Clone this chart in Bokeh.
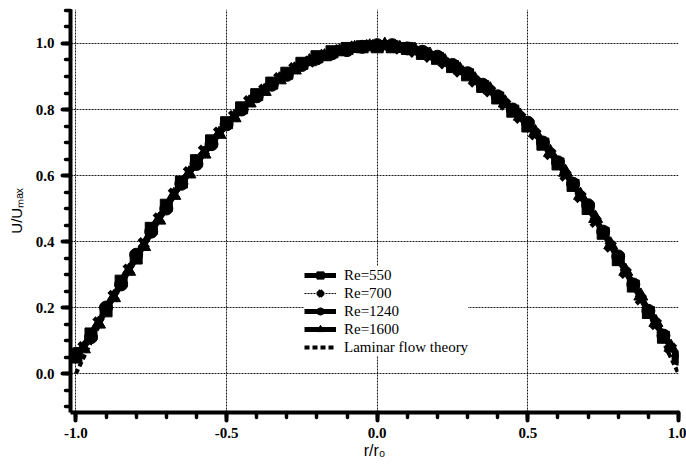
from bokeh.plotting import figure
from bokeh.models import (Range1d, FixedTicker, PrintfTickFormatter, Legend, LegendItem)
from bokeh.embed import file_html
from bokeh.resources import INLINE

# ---- data ----
r_a = [-1.00, -0.95, -0.90, -0.85, -0.80, -0.75, -0.70, -0.65, -0.60, -0.55, -0.50,
       -0.45, -0.40, -0.35, -0.30, -0.25, -0.20, -0.15, -0.10, -0.05, 0.00,
       0.05, 0.10, 0.15, 0.20, 0.25, 0.30, 0.35, 0.40, 0.45, 0.50,
       0.55, 0.60, 0.65, 0.70, 0.75, 0.80, 0.85, 0.90, 0.95, 1.00]
u_re550 = [0.05, 0.12, 0.19, 0.28, 0.35, 0.44, 0.51, 0.58, 0.645, 0.705, 0.76,
           0.805, 0.845, 0.88, 0.91, 0.94, 0.96, 0.975, 0.985, 0.99, 0.99,
           0.99, 0.985, 0.97, 0.955, 0.93, 0.905, 0.87, 0.835, 0.795, 0.75,
           0.695, 0.635, 0.57, 0.50, 0.425, 0.345, 0.265, 0.185, 0.11, 0.05]
u_re1240 = [0.06, 0.11, 0.20, 0.27, 0.36, 0.43, 0.50, 0.575, 0.635, 0.695, 0.755,
            0.80, 0.84, 0.875, 0.905, 0.935, 0.955, 0.97, 0.98, 0.99, 0.995,
            0.995, 0.985, 0.975, 0.96, 0.935, 0.91, 0.875, 0.84, 0.80, 0.76,
            0.70, 0.64, 0.575, 0.51, 0.43, 0.355, 0.27, 0.19, 0.115, 0.045]

r_b = [-0.975, -0.925, -0.875, -0.825, -0.775, -0.725, -0.675, -0.625, -0.575, -0.525,
       -0.475, -0.425, -0.375, -0.325, -0.275, -0.225, -0.175, -0.125, -0.075, -0.025,
       0.025, 0.075, 0.125, 0.175, 0.225, 0.275, 0.325, 0.375, 0.425, 0.475,
       0.525, 0.575, 0.625, 0.675, 0.725, 0.775, 0.825, 0.875, 0.925, 0.975]
u_re700 = [0.08, 0.155, 0.235, 0.315, 0.395, 0.47, 0.545, 0.61, 0.675, 0.73,
           0.78, 0.825, 0.86, 0.895, 0.925, 0.945, 0.965, 0.98, 0.99, 0.995,
           0.99, 0.985, 0.975, 0.96, 0.94, 0.915, 0.885, 0.855, 0.815, 0.775,
           0.725, 0.665, 0.60, 0.535, 0.46, 0.385, 0.305, 0.225, 0.15, 0.075]
u_re1600 = [0.075, 0.15, 0.23, 0.31, 0.385, 0.465, 0.54, 0.605, 0.665, 0.725,
            0.775, 0.82, 0.855, 0.89, 0.92, 0.945, 0.96, 0.975, 0.985, 0.99,
            0.995, 0.985, 0.98, 0.965, 0.945, 0.92, 0.89, 0.86, 0.82, 0.78,
            0.73, 0.67, 0.61, 0.54, 0.47, 0.39, 0.31, 0.235, 0.155, 0.08]

r_lam = [-1.0, -0.9, -0.8, -0.7, -0.6, -0.5, -0.4, -0.3, -0.2, -0.1, 0.0,
         0.1, 0.2, 0.3, 0.4, 0.5, 0.6, 0.7, 0.8, 0.9, 1.0]
u_lam = [0.0, 0.19, 0.36, 0.51, 0.64, 0.75, 0.84, 0.91, 0.96, 0.99, 1.0,
         0.99, 0.96, 0.91, 0.84, 0.75, 0.64, 0.51, 0.36, 0.19, 0.0]

labels = ["Re=550", "Re=700", "Re=1240", "Re=1600", "Laminar flow theory"]
x_ticks = [-1.0, -0.5, 0.0, 0.5, 1.0]
y_ticks = [0.0, 0.2, 0.4, 0.6, 0.8, 1.0]

# ---- figure ----
p = figure(width=686, height=469, output_backend="svg", toolbar_location=None,
           x_range=Range1d(-1.018, 1.0), y_range=Range1d(-0.118, 1.103),
           min_border_left=70, min_border_right=8, min_border_top=9, min_border_bottom=57)
p.outline_line_color = None
p.background_fill_color = "white"
p.border_fill_color = "white"

serif = "Liberation Serif"
sans = "Liberation Sans"

for ax in (p.xaxis[0], p.yaxis[0]):
    ax.axis_line_width = 4
    ax.axis_line_color = "black"
    ax.major_tick_line_width = 4
    ax.minor_tick_line_width = 3.5
    ax.major_tick_line_cap = "round"
    ax.minor_tick_line_cap = "round"
    ax.major_tick_out = 8
    ax.major_tick_in = 0
    ax.minor_tick_out = 5
    ax.minor_tick_in = 0
    ax.major_label_text_font = serif
    ax.major_label_text_font_style = "bold"
    ax.major_label_text_font_size = "15px"
    ax.major_label_text_color = "black"
    ax.axis_label_text_font = sans
    ax.axis_label_text_font_style = "normal"
    ax.axis_label_text_font_size = "15px"
    ax.axis_label_text_color = "black"
    ax.formatter = PrintfTickFormatter(format="%.1f")

p.xaxis[0].ticker = FixedTicker(ticks=x_ticks,
                                minor_ticks=[-1.0, -0.9, -0.8, -0.7, -0.6, -0.5, -0.4, -0.3, -0.2, -0.1,
                                             0.0, 0.1, 0.2, 0.3, 0.4, 0.5, 0.6, 0.7, 0.8, 0.9, 1.0])
p.yaxis[0].ticker = FixedTicker(ticks=y_ticks,
                                minor_ticks=[-0.1, -0.05, 0.0, 0.05, 0.1, 0.15, 0.2, 0.25, 0.3, 0.35,
                                             0.4, 0.45, 0.5, 0.55, 0.6, 0.65, 0.7, 0.75, 0.8, 0.85,
                                             0.9, 0.95, 1.0, 1.05, 1.1])
p.xaxis[0].major_label_standoff = 7
p.yaxis[0].major_label_standoff = 8
p.xaxis[0].axis_label = "r/r\u2080"
p.xaxis[0].axis_label_standoff = 1
p.xaxis[0].axis_label_text_font_size = "16px"
p.yaxis[0].axis_label = "U/U\u2098\u2090\u2093"
p.yaxis[0].axis_label_standoff = 8

p.xgrid[0].ticker = FixedTicker(ticks=x_ticks)
p.ygrid[0].ticker = FixedTicker(ticks=y_ticks)
for g in (p.xgrid[0], p.ygrid[0]):
    g.grid_line_color = "black"
    g.grid_line_width = 1
    g.grid_line_dash = "2 1"
    g.grid_line_alpha = 0.9

# ---- series ----
l1 = p.line(r_a, u_re550, line_color="black", line_width=5)
m1 = p.scatter(r_a, u_re550, marker="square", size=12, fill_color="black", line_color="black")

l2 = p.line(r_b, u_re700, line_color="black", line_width=1, line_dash="2 1")
m2 = p.scatter(r_b, u_re700, marker="x", size=13, line_color="black", line_width=4.5)

l3 = p.line(r_a, u_re1240, line_color="black", line_width=5)
m3 = p.scatter(r_a, u_re1240, marker="circle", size=13, fill_color="black", line_color="black")

l4 = p.line(r_b, u_re1600, line_color="black", line_width=5)
m4 = p.scatter(r_b, u_re1600, marker="triangle", size=14, fill_color="black", line_color="black")

l5 = p.line(r_lam, u_lam, line_color="black", line_width=4, line_dash="5 3")

legend = Legend(items=[
    LegendItem(label=labels[0], renderers=[l1, m1]),
    LegendItem(label=labels[1], renderers=[l2, m2]),
    LegendItem(label=labels[2], renderers=[l3, m3]),
    LegendItem(label=labels[3], renderers=[l4, m4]),
    LegendItem(label=labels[4], renderers=[l5]),
], location=(234, 56))
legend.background_fill_color = "white"
legend.background_fill_alpha = 1.0
legend.border_line_color = None
legend.label_text_font = serif
legend.label_text_font_size = "15px"
legend.label_text_color = "black"
legend.label_height = 18
legend.glyph_height = 18
legend.glyph_width = 32
legend.label_standoff = 8
legend.spacing = 0
legend.padding = 4
legend.margin = 0
p.add_layout(legend, "center")

open("out.html", "w").write(file_html(p, INLINE))
